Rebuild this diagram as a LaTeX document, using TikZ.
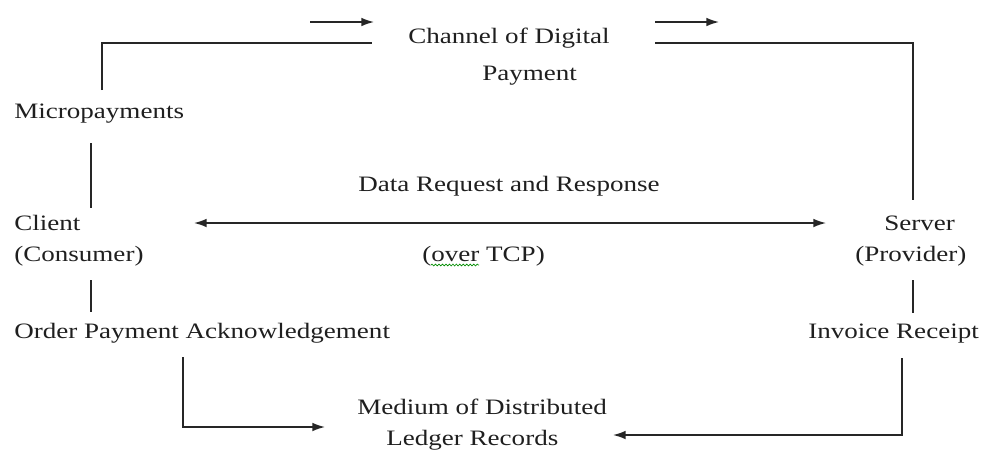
\documentclass[tikz,border=0pt]{standalone}
\usepackage{fontspec}
\setmainfont{Liberation Serif}[FakeStretch=1.23]
\usetikzlibrary{arrows.meta,calc,decorations.pathmorphing}
\begin{document}
\begin{tikzpicture}[x=0.75pt,y=-0.75pt,
  lbl/.style={inner sep=0pt,anchor=base west,text=black!88,font=\fontsize{16.5pt}{18pt}\selectfont},
  conn/.style={line width=1.1pt,draw=black!85},
  arr/.style={conn,-{Latex[length=9.5pt,width=6.5pt]}},
  darr/.style={conn,{Latex[length=9.5pt,width=6.5pt]}-{Latex[length=9.5pt,width=6.5pt]}}]
\useasboundingbox (0,0) rectangle (981,451);
% text nodes
\node[lbl] (chan) at (408,43) {Channel of Digital};
\node[lbl] (pay) at (482,80) {Payment};
\node[lbl] (micro) at (14,118) {Micropayments};
\node[lbl] (data) at (358,191) {Data Request and Response};
\node[lbl] (client) at (14,230) {Client};
\node[lbl] (cons) at (14,261) {(Consumer)};
\node[lbl] (tcp) at (422,261) {(over TCP)};
\node[lbl] (server) at (884,230) {Server};
\node[lbl] (prov) at (855,261) {(Provider)};
\node[lbl] (order) at (14,338) {Order Payment Acknowledgement};
\node[lbl] (inv) at (808,338) {Invoice Receipt};
\node[lbl] (med) at (357,414) {Medium of Distributed};
\node[lbl] (ledg) at (386,445) {Ledger Records};
% coordinates
\coordinate (mtop) at (102,90);
\coordinate (chL) at (372,43);
\coordinate (chR) at (655,43);
\coordinate (stop) at (913,200);
\coordinate (a1s) at (310,22); \coordinate (a1e) at (374,22);
\coordinate (a2s) at (655,22); \coordinate (a2e) at (719,22);
\coordinate (cl) at (194,223); \coordinate (sr) at (826,223);
\coordinate (ordb) at (183,357); \coordinate (medL) at (325,427);
\coordinate (invb) at (902,358); \coordinate (ledR) at (613,435);
% connectors
\draw[conn] (mtop) |- (chL);
\draw[conn] (chR) -| (stop);
\draw[arr] (a1s) -- (a1e);
\draw[arr] (a2s) -- (a2e);
\draw[conn] (91,143) -- (91,208);
\draw[conn] (91,280) -- (91,312);
\draw[conn] (913,280) -- (913,313);
\draw[darr] (cl) -- (sr);
\draw[arr] (ordb) |- (medL);
\draw[arr] (invb) |- (ledR);
% spell-check underline
\draw[green!55!black,line width=0.5pt,decorate,decoration={snake,amplitude=0.7pt,segment length=2.6pt}]
  ($(tcp.base west)+(9,4)$) -- ($(tcp.base west)+(57,4)$);
\end{tikzpicture}
\end{document}
